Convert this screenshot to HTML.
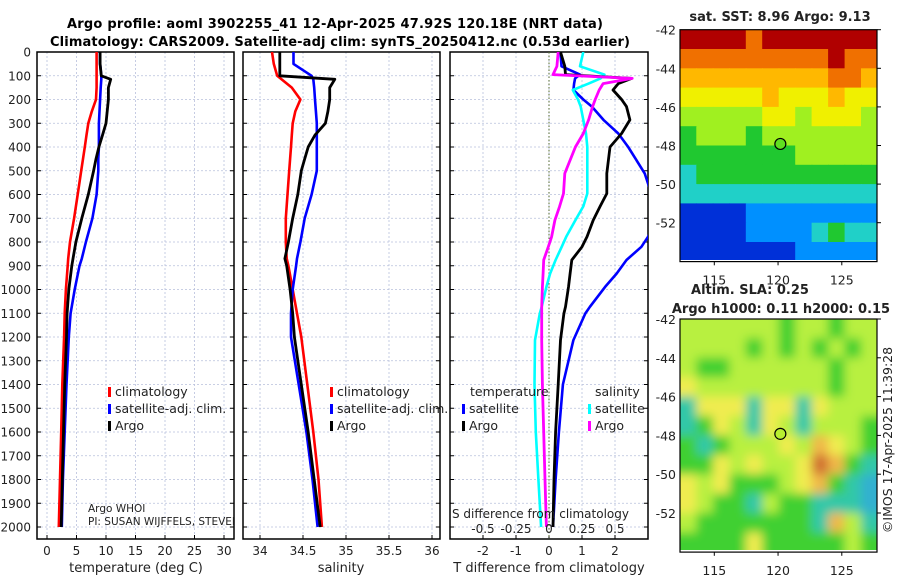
<!DOCTYPE html>
<html><head><meta charset="utf-8">
<style>
html,body{margin:0;padding:0;background:#fff;}
svg{display:block;font-family:"DejaVu Sans","Liberation Sans",sans-serif;}
</style></head>
<body>
<svg id="chart" width="900" height="580" viewBox="0 0 900 580">
<defs>
<clipPath id="c1"><rect x="37" y="52" width="197" height="487"/></clipPath>
<clipPath id="c2"><rect x="243" y="52" width="197" height="487"/></clipPath>
<clipPath id="c3"><rect x="450" y="52" width="198" height="487"/></clipPath>
<clipPath id="cm1"><rect x="680" y="30" width="197" height="230"/></clipPath>
<clipPath id="cm2"><rect x="680" y="319" width="197" height="231"/></clipPath>
<filter id="blur2"><feGaussianBlur stdDeviation="5"/></filter>
</defs>
<text x="335" y="28" text-anchor="middle" font-size="13" font-weight="bold" textLength="536">Argo profile: aoml 3902255_41 12-Apr-2025 47.92S 120.18E (NRT data)</text>
<text x="340" y="46" text-anchor="middle" font-size="13" font-weight="bold" textLength="580">Climatology: CARS2009. Satellite-adj clim: synTS_20250412.nc (0.53d earlier)</text>
<g id="root"></g>
</svg>
<script>
// ---- data ----
const depths = [0,50,100,115,150,200,250,300,350,400,450,500,600,700,800,870,900,1000,1100,1200,1400,1600,1800,2000];
const tempArgo = [9.0,9.0,9.2,10.8,10.4,10.4,10.2,10.0,9.4,8.8,8.3,7.9,7.0,5.9,4.9,4.4,4.2,3.7,3.4,3.3,3.0,2.8,2.6,2.4];
const tempClim = [8.4,8.4,8.4,8.4,8.4,8.3,7.6,7.0,6.7,6.4,6.1,5.8,5.2,4.6,3.9,3.6,3.5,3.2,3.0,2.9,2.6,2.4,2.2,2.0];
const tempSat  = [9.0,9.0,9.2,9.2,9.1,9.0,8.9,8.8,8.8,8.8,8.7,8.7,8.4,7.7,6.6,5.9,5.5,4.7,4.0,3.7,3.3,3.0,2.7,2.5];
const salArgo = [34.23,34.23,34.23,34.87,34.81,34.81,34.79,34.76,34.64,34.56,34.52,34.48,34.44,34.38,34.33,34.29,34.31,34.35,34.38,34.40,34.48,34.56,34.63,34.70];
const salClim = [34.14,34.16,34.20,34.25,34.37,34.47,34.41,34.38,34.37,34.36,34.35,34.34,34.32,34.30,34.30,34.31,34.33,34.38,34.43,34.48,34.55,34.62,34.68,34.72];
const salSat  = [34.39,34.39,34.60,34.62,34.63,34.64,34.65,34.66,34.66,34.66,34.66,34.66,34.60,34.52,34.47,34.43,34.42,34.38,34.36,34.36,34.45,34.54,34.61,34.67];
const dDepths = [0,60,95,111,133,160,200,230,286,343,400,511,596,650,708,778,820,876,933,989,1073,1101,1213,1400,1600,1800,2000];
const dTempArgo = [0.35,0.48,0.5,2.5,2.1,1.94,2.2,2.35,2.45,2.2,1.85,1.75,1.75,1.55,1.34,1.15,1.0,0.69,0.64,0.59,0.5,0.45,0.35,0.28,0.2,0.15,0.12];
const dTempSat = [0.35,0.38,0.94,0.79,0.76,0.74,1.04,1.3,1.65,2.1,2.4,2.9,3.1,3.4,3.3,3.0,2.8,2.35,2.05,1.7,1.24,1.1,0.74,0.42,0.3,0.2,0.12];
const dSalSat = [0.26,0.235,0.42,0.39,0.3,0.18,0.22,0.24,0.26,0.28,0.29,0.29,0.29,0.26,0.2,0.13,0.096,0.05,0.008,-0.02,-0.055,-0.07,-0.106,-0.11,-0.10,-0.08,-0.06];
const dSalArgo = [0.07,0.06,0.03,0.63,0.41,0.38,0.35,0.33,0.30,0.26,0.2,0.12,0.11,0.08,0.045,0.02,-0.005,-0.04,-0.045,-0.05,-0.055,-0.055,-0.055,-0.05,-0.04,-0.03,-0.02];
const depthTicks = [0,100,200,300,400,500,600,700,800,900,1000,1100,1200,1300,1400,1500,1600,1700,1800,1900,2000];
const tempTicks = [0,5,10,15,20,25,30];
const salTicks = [34,34.5,35,35.5,36];
const salTickLabels = ["34","34.5","35","35.5","36"];
const dTempTicks = [-2,-1,0,1,2];
const dSalTicks = [-0.5,-0.25,0,0.25,0.5];
const dSalTickLabels = ["-0.5","-0.25","0","0.25","0.5"];
const mapLonTicks = [115,120,125];
const mapLatTicks = [-42,-44,-46,-48,-50,-52];
const sstGrid = [
"999989999999",
"888888888988",
"777777777887",
"666667666766",
"555556656665",
"455545555555",
"444444455555",
"344444444444",
"333333333333",
"111122222222",
"111122223433",
"111111122222"];
const slaGrid = [
"555555455455",
"555545454545",
"544555555455",
"655555555455",
"366636636555",
"346536535554",
"434555657654",
"446565568743",
"656444567432",
"654435443332",
"544444443753",
"444464444454"];
const argoLon = 120.18, argoLat = -47.92;

// ---- scales ----
const yD = d => 52 + d*0.2375;
const x1 = t => 47 + t*5.9;
const x2 = s => 260 + (s-34)*86;
const x3 = t => 549 + t*33;
const x3s = s => 549 + s*132;
const mLon = lo => 714.3 + (lo-115)*12.75;
const m1Lat = la => 29.7 + (-42-la)*19.3;
const m2Lat = la => 319 + (-42-la)*19.4;

const NS="http://www.w3.org/2000/svg";
const root=document.getElementById('root');
function mk(tag,attrs,parent){const e=document.createElementNS(NS,tag);for(const k in attrs)e.setAttribute(k,attrs[k]);(parent||root).appendChild(e);return e;}
function txt(x,y,s,size,anchor,parent){const e=mk('text',{x:x,y:y,'font-size':size,'text-anchor':anchor||'start',fill:'#222'},parent);e.textContent=s;return e;}

function panel(name,x0,w,xs,xticks,xlabels,clip){
  const g=mk('g',{});
  
  
  depthTicks.forEach(d=>{const l=mk('line',{x1:x0,x2:x0+w,y1:yD(d),y2:yD(d),stroke:'#b8c0dc','stroke-width':0.8,'stroke-dasharray':'2,2'},g);
    
    
    mk('line',{x1:x0,x2:x0+4,y1:yD(d),y2:yD(d),stroke:'#000'},g);mk('line',{x1:x0+w-4,x2:x0+w,y1:yD(d),y2:yD(d),stroke:'#000'},g);});
  xticks.forEach((t,i)=>{const X=xs(t);const l=mk('line',{x1:X,x2:X,y1:52,y2:539,stroke:'#b8c0dc','stroke-width':0.8,'stroke-dasharray':'2,2'},g);
    
    
    mk('line',{x1:X,x2:X,y1:535,y2:539,stroke:'#000'},g);
    if(xlabels){const tl=txt(X,555,xlabels[i],12,'middle',g);
      
      }});
  const r=mk('rect',{x:x0,y:52,width:w,height:487,fill:'none',stroke:'#000','stroke-width':1.5},g);
  
  
  return g;
}
function line(g,xs,xv,dv,color,name,clip,sw){
  const pts=xv.map((v,i)=>xs(v).toFixed(1)+','+yD(dv[i]).toFixed(1)).join(' ');
  const p=mk('polyline',{points:pts,fill:'none',stroke:color,'stroke-width':sw||2.6,'stroke-linejoin':'round','clip-path':'url(#'+clip+')'},g);
  
  
}
function legend(g,x,y,color,label){
  const m=mk('rect',{x:x,y:y-9,width:3,height:10,fill:color},g);
  
  
  const t=txt(x+7,y,label,12.5,'start',g);
  
  
}

// depth tick labels
depthTicks.forEach(d=>{const t=txt(31,yD(d)+4.5,String(d),12,'end');
  
  });

// panel 1
const g1=panel('temperature',37,197,x1,tempTicks,tempTicks.map(String),'c1');
line(g1,x1,tempClim,depths,'#f00','temp-climatology-line','c1');
line(g1,x1,tempSat,depths,'#00f','temp-satellite-line','c1');
line(g1,x1,tempArgo,depths,'#000','temp-argo-line','c1',2.8);
legend(g1,108,396,'#f00','climatology');
legend(g1,108,413,'#00f','satellite-adj. clim.');
legend(g1,108,430,'#000','Argo');
const a1=txt(88,512,'Argo WHOI',10.5,'start',g1);
const a2=txt(88,525,'PI: SUSAN WIJFFELS, STEVEN',10.5,'start',g1);a2.setAttribute('clip-path','url(#c1)');
const xt1=txt(136,572,'temperature (deg C)',13,'middle');

// panel 2
const g2=panel('salinity',243,197,x2,salTicks,salTickLabels,'c2');
line(g2,x2,salClim,depths,'#f00','sal-climatology-line','c2');
line(g2,x2,salSat,depths,'#00f','sal-satellite-line','c2');
line(g2,x2,salArgo,depths,'#000','sal-argo-line','c2',2.8);
legend(g2,330,396,'#f00','climatology');
legend(g2,330,413,'#00f','satellite-adj. clim.');
legend(g2,330,430,'#000','Argo');
const xt2=txt(341,572,'salinity',13,'middle');

// panel 3
const g3=panel('difference',450,198,x3,dTempTicks,dTempTicks.map(String),'c3');
const zl=mk('line',{x1:x3(0),x2:x3(0),y1:52,y2:539,stroke:'#556b2f','stroke-width':1,'stroke-dasharray':'1.5,2'},g3);

line(g3,x3,dTempSat,dDepths,'#00f','dtemp-satellite-line','c3');
line(g3,x3s,dSalSat,dDepths,'#00ffff','dsal-satellite-line','c3');
line(g3,x3,dTempArgo,dDepths,'#000','dtemp-argo-line','c3',2.8);
line(g3,x3s,dSalArgo,dDepths,'#ff00ff','dsal-argo-line','c3',2.8);
const lt=txt(470,396,'temperature',12.5,'start',g3);
const ls=txt(595,396,'salinity',12.5,'start',g3);
legend(g3,462,413,'#00f','satellite');
legend(g3,462,430,'#000','Argo');
legend(g3,588,413,'#00ffff','satellite');
legend(g3,588,430,'#ff00ff','Argo');
const sdt=txt(452,518,'S difference from climatology',12,'start',g3);
dSalTicks.forEach((s,i)=>{const t=txt(x3s(s),533,dSalTickLabels[i],12,'middle',g3);
  
  });
const xt3=txt(549,572,'T difference from climatology',13,'middle');

// maps
const jet=['#00008f','#0030d8','#0090ff','#20d0c8','#20c830','#a0f020','#f0f000','#ffb800','#f07000','#b00000'];
const slaC=['#0040c0','#2080e0','#30b0d0','#30c8a8','#40d030','#b8f040','#f0ec50','#f0b848','#d07030','#a02000'];
function map(name,grid,latFn,clip,colors,top,blur,circleFill){
  const g=mk('g',{});
  
  
  const cells=mk('g',{'clip-path':'url(#'+clip+')'},g);
  const inner=mk('g',blur?{filter:'url(#blur2)'}:{},cells);
  const lon0=112.3, dLon=(127.8-112.3)/12;
  grid.forEach((row,r)=>{for(let c=0;c<row.length;c++){
    const v=+row[c];
    const xa=mLon(lon0+c*dLon), xb=mLon(lon0+(c+1)*dLon);
    const ya=latFn(-42-r), yb=latFn(-43-r);
    const pad=blur?(c===0?-10:0):0;
    const rc=mk('rect',{x:(c===0&&blur?xa-12:xa).toFixed(1),y:(r===0&&blur?ya-12:ya).toFixed(1),width:(xb-xa+(blur?(c===0||c===row.length-1?12.6:0.6):0.6)).toFixed(1),height:(yb-ya+(blur?(r===0||r===grid.length-1?12.6:0.6):0.6)).toFixed(1),fill:colors[v]},inner);
    
    
  }});
  const fr=mk('rect',{x:680,y:latFn(-42),width:197,height:latFn(-54)-latFn(-42)+0.3,fill:'none',stroke:'#000','stroke-width':1.2},g);
  
  mapLatTicks.forEach(la=>{const Y=latFn(la);
    mk('line',{x1:877,x2:881,y1:Y,y2:Y,stroke:'#000'},g);
    const t=txt(676,Y+5,String(la),12.5,'end',g);
    });
  mapLonTicks.forEach(lo=>{const X=mLon(lo);
    mk('line',{x1:X,x2:X,y1:latFn(-54),y2:latFn(-54)+4,stroke:'#000'},g);
    const t=txt(X,latFn(-54)+23,String(lo),12.5,'middle',g);
    });
  const ci=mk('circle',{cx:mLon(argoLon),cy:latFn(argoLat),r:5.5,fill:circleFill,stroke:'#000','stroke-width':1.2},g);
  
  return g;
}
map('sst-map',sstGrid,m1Lat,'cm1',jet,true,false,'#60e020');
map('sla-map',slaGrid,m2Lat,'cm2',slaC,false,true,'#b8f030');
const mt1=txt(780,21,'sat. SST: 8.96 Argo: 9.13',13,'middle');mt1.setAttribute('font-weight','bold');
const mt2=txt(750,294,'Altim. SLA: 0.25',13,'middle');mt2.setAttribute('font-weight','bold');
const mt3=txt(781,313,'Argo h1000: 0.11 h2000: 0.15',13,'middle');mt3.setAttribute('font-weight','bold');
const cp=txt(0,0,'©IMOS 17-Apr-2025 11:39:28',12.5,'middle');
cp.setAttribute('transform','translate(892,440) rotate(-90)');


</script>
</body></html>
